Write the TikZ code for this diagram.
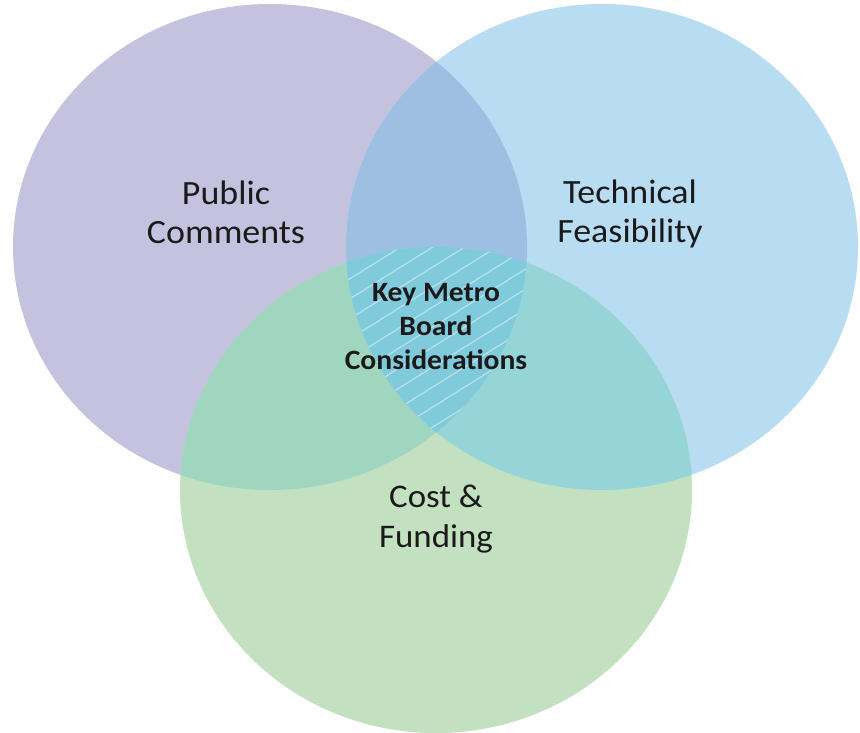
\documentclass[tikz,border=0pt]{standalone}
\usepackage{fontspec}
\setmainfont{Carlito}[FakeStretch=1.057]
\definecolor{cP}{HTML}{C5C2E0}
\definecolor{cB}{HTML}{B8DCF1}
\definecolor{cG}{HTML}{C3E0C0}
\definecolor{cPB}{HTML}{9DBFE2}
\definecolor{cPG}{HTML}{A0D6C0}
\definecolor{cBG}{HTML}{95D5D8}
\definecolor{cT}{HTML}{7FCADB}
\definecolor{txt}{HTML}{1A1A1A}
\begin{document}
\begin{tikzpicture}[x=1pt,y=-1pt,
  pe/.style={insert path={(270,247) ellipse [x radius=257pt,y radius=243pt]}},
  be/.style={insert path={(602,247) ellipse [x radius=256pt,y radius=243pt]}},
  ge/.style={insert path={(436,490) ellipse [x radius=256pt,y radius=243pt]}},
  lbl/.style={font=\fontsize{34}{39}\selectfont, align=center, text=txt, inner sep=0pt},
  lblc/.style={font=\fontsize{33}{40}\selectfont, align=center, text=txt, inner sep=0pt},
  keylbl/.style={font=\bfseries\fontsize{28}{34}\selectfont, align=center, text=txt, inner sep=0pt},
  hatch/.style={white, opacity=0.45, line width=1.2pt}]
\useasboundingbox (0,0) rectangle (860,733);
\fill[white] (0,0) rectangle (860,733);
% circles
\path[fill=cP,pe];
\path[fill=cB,be];
\path[fill=cG,ge];
% pairwise overlaps
\begin{scope}\clip[pe];\path[fill=cPB,be];\end{scope}
\begin{scope}\clip[pe];\path[fill=cPG,ge];\end{scope}
\begin{scope}\clip[be];\path[fill=cBG,ge];\end{scope}
% triple overlap with hatching
\begin{scope}
  \clip[pe];\clip[be];
  \path[fill=cT,ge];
  \clip[ge];
  \foreach \k in {0,...,26}{
    \draw[hatch] (300,{250+20*\k}) -- ++(320,-200);
  }
\end{scope}
% labels
\node[lbl] (pub) at (226,212) {Public\\Comments};
\node[lbl] (tech) at (630,214) {Technical\\Feasibility};
\node[keylbl] (key) at (436,327) {Key Metro\\Board\\Considerations};
\node[lblc] (cost) at (436,519) {Cost \&\\Funding};
\end{tikzpicture}
\end{document}
